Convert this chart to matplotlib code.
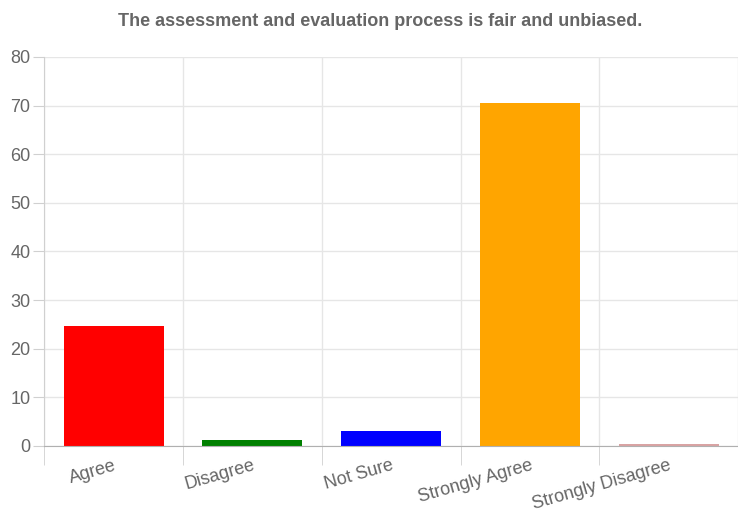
import matplotlib

matplotlib.use("Agg")
import matplotlib.pyplot as plt
import numpy as np

categories = ["Agree", "Disagree", "Not Sure", "Strongly Agree", "Strongly Disagree"]
values = [24.7, 1.2, 3.1, 70.5, 0.4]
colors = ["#ff0000", "#008000", "#0000ff", "#ffa500", "#d9a3a3"]
y_ticks = [0, 10, 20, 30, 40, 50, 60, 70, 80]

plt.rcParams["font.family"] = ["Liberation Sans", "DejaVu Sans"]

fig = plt.figure(figsize=(7.38, 5.18), dpi=100)
ax = fig.add_axes([0.06, 0.139, 0.94, 0.751])

x = np.arange(len(categories))
ax.bar(x, values, width=0.72, color=colors, zorder=3)

ax.set_xlim(-0.5, len(categories) - 0.5)
ax.set_ylim(0, 80)
ax.set_yticks(y_ticks)
ax.tick_params(axis="y", length=8, color="#d0d0d0", labelcolor="#666666", labelsize=13, pad=2)

ax.set_xticks(x)
ax.set_xticklabels(categories, rotation=16, ha="right", va="top", rotation_mode="anchor",
                   color="#666666", fontsize=13)
ax.tick_params(axis="x", which="major", length=0, pad=8)
ax.set_xticks(np.arange(-0.5, len(categories)), minor=True)
ax.tick_params(axis="x", which="minor", length=14, color="#d0d0d0")

ax.grid(axis="y", color="#e6e6e6", linewidth=1, zorder=0)
ax.grid(axis="x", which="minor", color="#e6e6e6", linewidth=1, zorder=0)

for side in ["top", "right"]:
    ax.spines[side].set_visible(False)
ax.spines["left"].set_color("#d0d0d0")
ax.spines["bottom"].set_color("#b0b0b0")
ax.spines["bottom"].set_zorder(4)

fig.suptitle("The assessment and evaluation process is fair and unbiased.",
             x=0.515, y=0.975, fontsize=13, fontweight="bold", color="#666666")

fig.savefig("out.png", dpi=100)
